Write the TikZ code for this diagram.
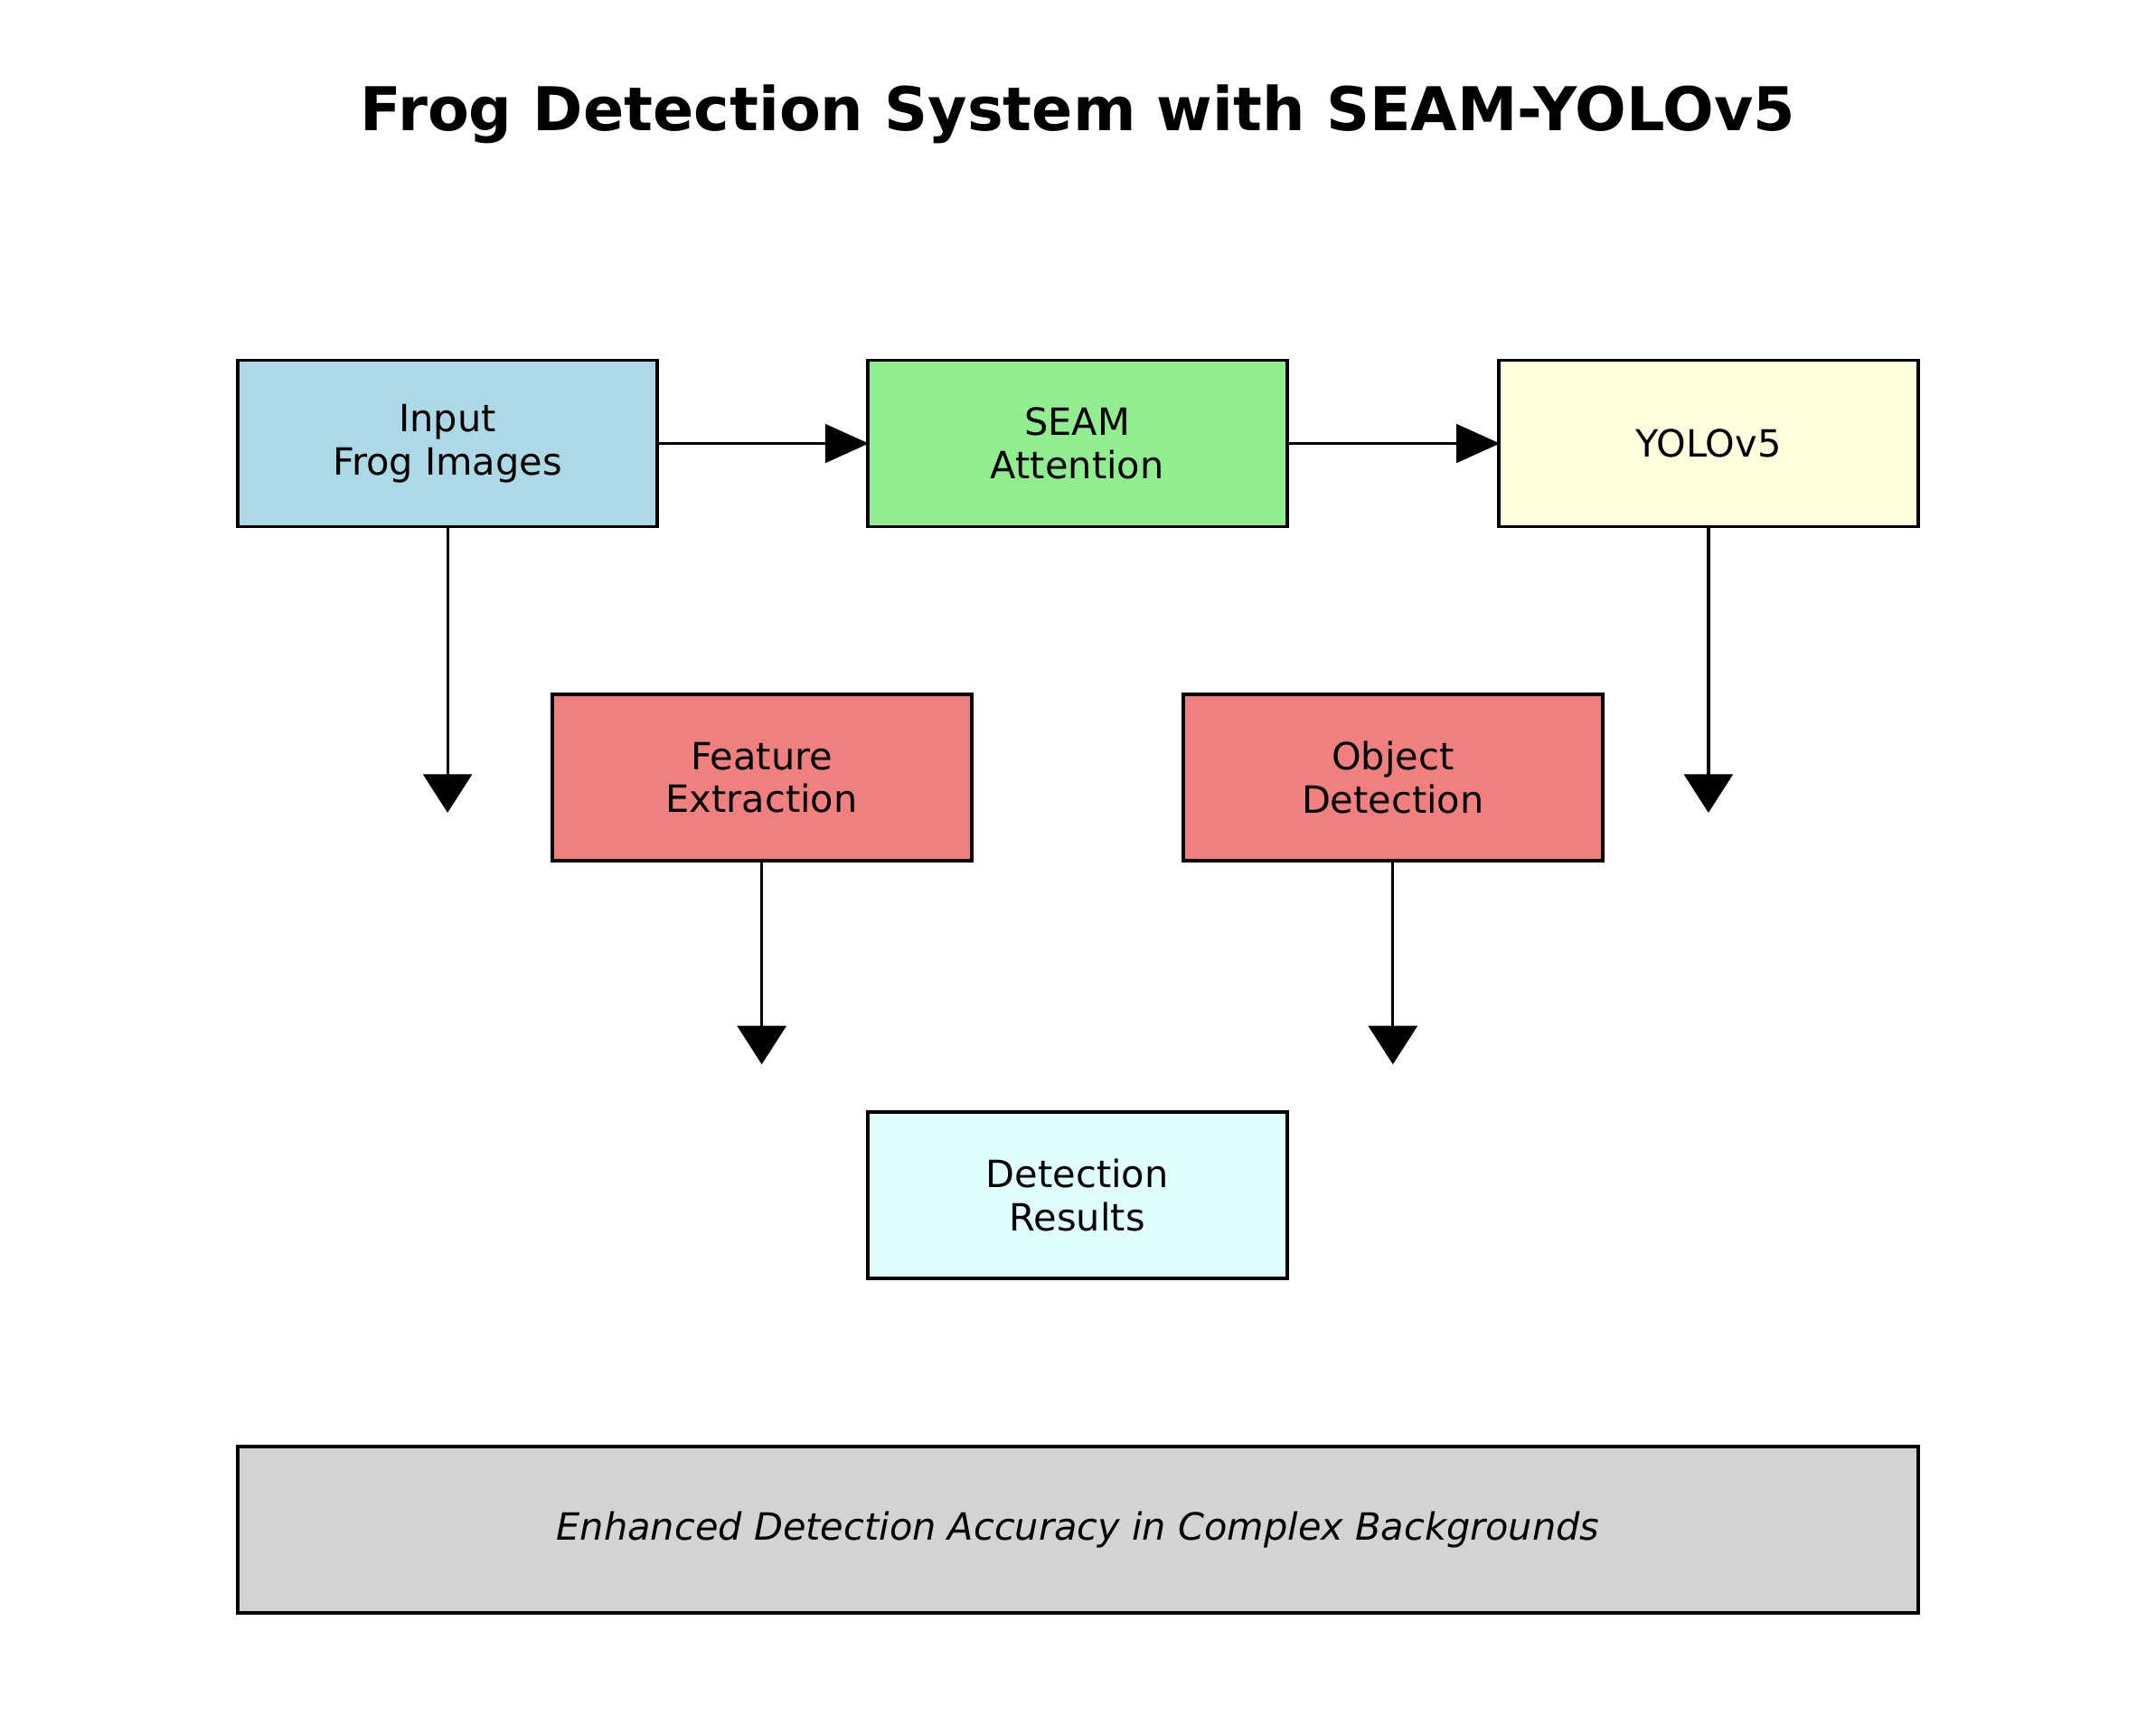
\documentclass[tikz,border=0pt]{standalone}
\usepackage{fontspec}
\setmainfont{DejaVu Sans}
\usetikzlibrary{arrows.meta}
\definecolor{cblue}{HTML}{ADD8E6}
\definecolor{cgreen}{HTML}{90EE90}
\definecolor{cyellow}{HTML}{FFFFE0}
\definecolor{ccoral}{HTML}{F08080}
\definecolor{ccyan}{HTML}{E0FFFF}
\definecolor{cgray}{HTML}{D3D3D3}
\begin{document}
\begin{tikzpicture}[x=0.025cm,y=-0.025cm,
  procbox/.style={draw=black,line width=1.8pt,minimum width=305*0.025cm,minimum height=121*0.025cm,inner sep=0pt,align=center,font=\fontsize{19.4}{22.4}\selectfont},
  harrow/.style={line width=1.5pt,shorten >=-1.5pt,-{Triangle[length=22.5pt,width=19.9pt]}},
  varrow/.style={line width=1.5pt,-{Triangle[length=19.9pt,width=25.2pt]}}]
\useasboundingbox (0,0) rectangle (1568,1254);
\node[anchor=base,font=\fontsize{31.2}{37}\selectfont\bfseries] (title) at (784,95) {Frog Detection System with SEAM-YOLOv5};
\node[procbox,fill=cblue] (input) at (325.5,322.5) {Input\\Frog Images};
\node[procbox,fill=cgreen] (seam) at (783.5,322.5) {SEAM\\Attention};
\node[procbox,fill=cyellow] (yolo) at (1242.5,322.5) {YOLOv5};
\node[procbox,fill=ccoral] (feat) at (554,565.5) {Feature\\Extraction};
\node[procbox,fill=ccoral] (obj) at (1013,565.5) {Object\\Detection};
\node[procbox,fill=ccyan] (res) at (783.5,869) {Detection\\Results};
\node[procbox,fill=cgray,minimum width=1222*0.025cm,font=\fontsize{19.4}{22.4}\selectfont\itshape] (note) at (784,1112.5) {Enhanced Detection Accuracy in Complex Backgrounds};
\coordinate (e1) at (325.5,591);
\coordinate (e2) at (1242.5,591);
\coordinate (e3) at (554,774);
\coordinate (e4) at (1013,774);
\draw[harrow] (input.east) -- (seam.west);
\draw[harrow] (seam.east) -- (yolo.west);
\draw[varrow] (input.south) -- (e1);
\draw[varrow] (yolo.south) -- (e2);
\draw[varrow] (feat.south) -- (e3);
\draw[varrow] (obj.south) -- (e4);
\end{tikzpicture}
\end{document}
